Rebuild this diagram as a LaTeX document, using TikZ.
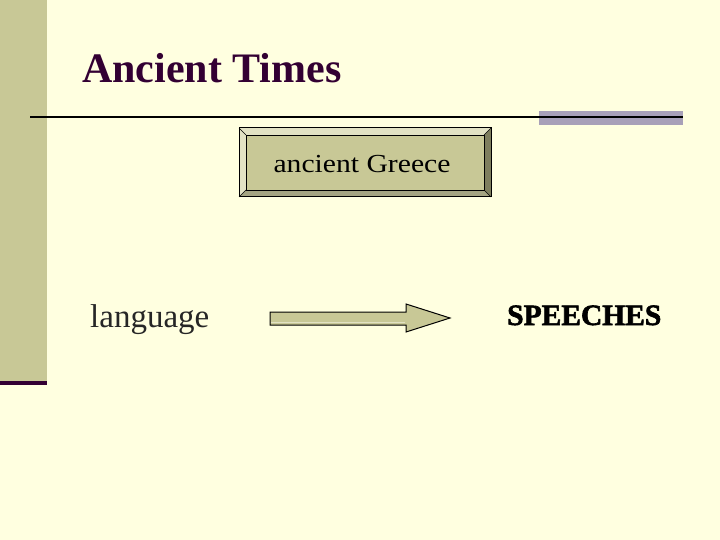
\documentclass[tikz,border=0pt]{standalone}
\usepackage{fontspec}
\setmainfont{Liberation Serif}
\newfontfamily\speechfont[BoldFeatures={FakeBold=2}]{Liberation Serif}
\usetikzlibrary{positioning}
\definecolor{slidebg}{HTML}{FFFFE0}
\definecolor{barolive}{HTML}{C8C896}
\definecolor{titlepurple}{HTML}{330033}
\definecolor{greybar}{HTML}{A8A0B8}
\definecolor{bevellight}{HTML}{E2E2C4}
\definecolor{bevelmid}{HTML}{A4A482}
\definecolor{beveldark}{HTML}{7E7E5E}

\begin{document}
\begin{tikzpicture}[x=1pt,y=-1pt]
\tikzset{every node/.style={inner sep=0pt}}
\tikzset{blockarrow/.style={draw,fill=barolive,line width=1pt,line join=miter}}

\useasboundingbox[fill=slidebg] (0,0) rectangle (720,540);
\fill[barolive] (0,0) rectangle (47,381);
\fill[titlepurple] (0,381) rectangle (47,385);
\fill[greybar] (539,111) rectangle (683,125);
\draw[line width=2pt] (30,117) -- (683,117);

\node[anchor=base west,text=titlepurple,font=\bfseries\fontsize{42}{48}\selectfont](title) at (82,83) {Ancient Times};

% button
\fill[beveldark] (239,128) rectangle (491,197);
\fill[bevelmid] (239,197) -- (491,197) -- (484,190) -- (246,190) -- cycle;
\fill[bevellight] (239,128) -- (491,128) -- (484,135) -- (246,135) -- (246,190) -- (239,197) -- cycle;
\fill[barolive] (246,135) rectangle (484,190);
\draw[line width=1pt] (239,128) rectangle (491,197);
\draw[line width=0.8pt] (246,135) rectangle (484,190);
\draw[line width=0.5pt] (239,128) -- (246,135) (491,128) -- (484,135)
  (239,197) -- (246,190) (491,197) -- (484,190);
\node[anchor=base,font=\fontsize{26}{30}\selectfont](greece) at (362,172.5) {\scalebox{1.14}[1]{ancient Greece}};

\node[anchor=base west,text=black!85,font=\fontsize{33}{38}\selectfont](language) at (90,327) {language};

% arrow
\draw[blockarrow] (270,312) -- (406,312) -- (406,304) -- (450,318)
  -- (406,332) -- (406,325) -- (270,325) -- cycle;
\draw[bevellight,line width=0.8pt] (271,322) -- (405,322);

\node[anchor=base west,font=\speechfont\bfseries\fontsize{29.5}{32}\selectfont](speeches) at (507,325) {SPEECHES};
\end{tikzpicture}
\end{document}
